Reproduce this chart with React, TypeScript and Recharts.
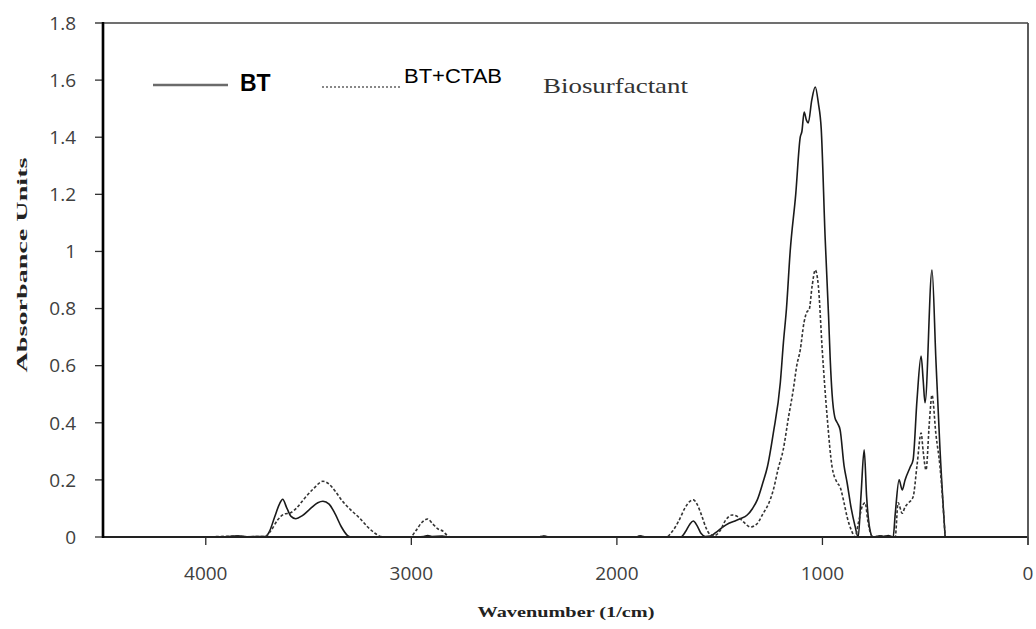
import { LineChart, Line, XAxis, YAxis } from 'recharts';

// FTIR absorbance spectra, wavenumber in 1/cm (descending)
const btWavenumber = [
  4000, 3900, 3845, 3800, 3710, 3690, 3665, 3640, 3626, 3605, 3585, 3562, 3530, 3490, 3455, 3430, 3400, 3370,
  3340, 3310, 3290, 3000, 2940, 2920, 2900, 2850, 2820, 2380, 2357, 2330, 1910, 1886, 1860, 1690, 1665, 1645,
  1628, 1610, 1590, 1570, 1545, 1520, 1490, 1455, 1420, 1400, 1366, 1340, 1317, 1290, 1268, 1239, 1205, 1190,
  1175, 1157, 1130, 1108, 1100, 1089, 1078, 1069, 1052, 1035, 1020, 1006, 987, 970, 962, 953, 940, 928, 914,
  895, 880, 860, 842, 826, 812, 797, 785, 770, 755, 720, 700, 680, 656, 646, 627, 612, 598, 573, 559, 540, 520,
  510, 501, 467, 448, 428, 403,
];
const btAbsorbance = [
  0, 0.001, 0.004, 0.001, 0.002, 0.02, 0.07, 0.118, 0.132, 0.1, 0.072, 0.064, 0.075, 0.1, 0.12, 0.125, 0.115, 0.08,
  0.035, 0.005, 0, 0, 0.002, 0.005, 0.002, 0.003, 0, 0, 0.003, 0, 0, 0.004, 0, 0, 0.02, 0.045,
  0.056, 0.04, 0.012, 0.002, 0.003, 0.015, 0.032, 0.048, 0.058, 0.064, 0.077, 0.1, 0.13, 0.19, 0.245, 0.364, 0.54, 0.68,
  0.8, 1.0, 1.2, 1.4, 1.42, 1.488, 1.46, 1.45, 1.53, 1.576, 1.52, 1.43, 1.05, 0.77, 0.62, 0.5, 0.42, 0.4, 0.375,
  0.25, 0.19, 0.1, 0.04, 0, 0.15, 0.305, 0.14, 0.03, 0, 0.004, 0.002, 0.005, 0, 0.08, 0.2, 0.165, 0.2, 0.245, 0.27, 0.48, 0.634,
  0.55, 0.47, 0.935, 0.62, 0.305, 0,
];

const ctabWavenumber = [
  4000, 3845, 3800, 3710, 3685, 3650, 3620, 3587, 3560, 3520, 3475, 3430, 3400, 3370, 3340, 3295, 3250, 3212,
  3180, 3150, 3130, 3005, 2980, 2950, 2921, 2895, 2870, 2845, 2825, 2810, 2380, 2357, 2330, 1910, 1886, 1860,
  1760, 1730, 1700, 1670, 1645, 1628, 1610, 1590, 1565, 1545, 1525, 1500, 1470, 1440, 1410, 1380, 1351, 1320,
  1288, 1260, 1239, 1215, 1191, 1165, 1142, 1125, 1108, 1090, 1074, 1065, 1050, 1035, 1020, 1001, 977, 953, 928,
  914, 895, 880, 860, 841, 825, 805, 792, 780, 765, 753, 720, 680, 646, 632, 612, 598, 580, 559, 540, 520, 510,
  496, 480, 467, 448, 428, 403,
];
const ctabAbsorbance = [
  0, 0.003, 0.001, 0.002, 0.02, 0.06, 0.08, 0.085, 0.1, 0.135, 0.17, 0.195, 0.185, 0.16, 0.13, 0.095, 0.065, 0.035,
  0.015, 0.002, 0, 0, 0.02, 0.05, 0.063, 0.045, 0.028, 0.02, 0.005, 0, 0, 0.003, 0, 0, 0.003, 0,
  0, 0.02, 0.055, 0.1, 0.125, 0.13, 0.115, 0.08, 0.03, 0.008, 0.005, 0.02, 0.06, 0.077, 0.07, 0.05, 0.035, 0.045,
  0.083, 0.12, 0.165, 0.24, 0.305, 0.42, 0.515, 0.6, 0.655, 0.75, 0.79, 0.795, 0.88, 0.935, 0.88, 0.655, 0.42, 0.245, 0.19,
  0.175, 0.12, 0.07, 0.025, 0, 0.05, 0.11, 0.12, 0.06, 0.01, 0, 0.003, 0.002, 0, 0.12, 0.083, 0.105, 0.12, 0.14, 0.25, 0.364, 0.3,
  0.235, 0.4, 0.497, 0.36, 0.245, 0,
];

const xTicks = [0, 1000, 2000, 3000, 4000];
const yTicks = [0, 0.2, 0.4, 0.6, 0.8, 1, 1.2, 1.4, 1.6, 1.8];

const btData = btWavenumber.map((x, i) => ({ x, y: btAbsorbance[i] }));
const ctabData = ctabWavenumber.map((x, i) => ({ x, y: ctabAbsorbance[i] }));

const TICK_STYLE = { fontSize: 19, fill: '#404040', fontFamily: '"Open Sans", sans-serif' };
const SERIF = '"Liberation Serif", "Times New Roman", serif';
const SANS = '"Liberation Sans", Arial, sans-serif';

export default function App() {
  return (
    <div style={{ position: 'absolute', left: 0, top: 0, width: 1036, height: 629, background: '#fff' }}>
      <LineChart width={1036} height={629} margin={{ top: 23, right: 8, bottom: 0, left: 0 }}>
        <XAxis
          type="number"
          dataKey="x"
          domain={[0, 4500]}
          reversed
          ticks={xTicks}
          height={92}
          tick={TICK_STYLE}
          tickSize={8}
          tickMargin={22}
          axisLine={{ stroke: '#222', strokeWidth: 1.8 }}
          tickLine={{ stroke: '#2a2a2a', strokeWidth: 1.3 }}
          allowDuplicatedCategory={false}
        />
        <YAxis
          type="number"
          domain={[0, 1.8]}
          ticks={yTicks}
          width={103}
          tick={TICK_STYLE}
          tickSize={8}
          tickMargin={19}
          axisLine={{ stroke: '#111', strokeWidth: 2.2 }}
          tickLine={{ stroke: '#333', strokeWidth: 1.3 }}
        />
        <Line
          data={btData}
          dataKey="y"
          type="monotone"
          stroke="#1a1a1a"
          strokeWidth={1.6}
          dot={false}
          isAnimationActive={false}
        />
        <Line
          data={ctabData}
          dataKey="y"
          type="monotone"
          stroke="#333"
          strokeWidth={1.6}
          strokeDasharray="3 2"
          dot={false}
          isAnimationActive={false}
        />
      </LineChart>
      {/* plot frame, legend and axis titles */}
      <svg
        width={1036}
        height={629}
        style={{ position: 'absolute', left: 0, top: 0, pointerEvents: 'none' }}
      >
        <path d="M95 23H1028" stroke="#707070" strokeWidth={2.2} fill="none" />
        <path d="M1028 23V545" stroke="#4a4a4a" strokeWidth={1.8} fill="none" />
        <path d="M103 22V538" stroke="#000" strokeWidth={2.5} fill="none" />
        <path d="M153 85H228" stroke="#6b6b6b" strokeWidth={2.5} fill="none" />
        <text x={240} y={91} fontFamily={SANS} fontWeight="bold" fontSize={23} fill="#000">
          BT
        </text>
        <path d="M322 87H400" stroke="#888" strokeWidth={2} strokeDasharray="2 2" fill="none" />
        <text x={404} y={83} fontFamily={SANS} fontSize={20} fill="#000" textLength={98} lengthAdjust="spacingAndGlyphs">
          BT+CTAB
        </text>
        <text x={543} y={93} fontFamily={SERIF} fontSize={21} fill="#333" textLength={145} lengthAdjust="spacingAndGlyphs">
          Biosurfactant
        </text>
        <text
          x={27}
          y={265}
          transform="rotate(-90 27 265)"
          textAnchor="middle"
          fontFamily={SERIF}
          fontWeight="bold"
          fontSize={15}
          fill="#222"
          textLength={215}
          lengthAdjust="spacingAndGlyphs"
        >
          Absorbance Units
        </text>
        <text
          x={566}
          y={617}
          textAnchor="middle"
          fontFamily={SERIF}
          fontWeight="bold"
          fontSize={15}
          fill="#222"
          textLength={177}
          lengthAdjust="spacingAndGlyphs"
        >
          Wavenumber (1/cm)
        </text>
      </svg>
    </div>
  );
}
